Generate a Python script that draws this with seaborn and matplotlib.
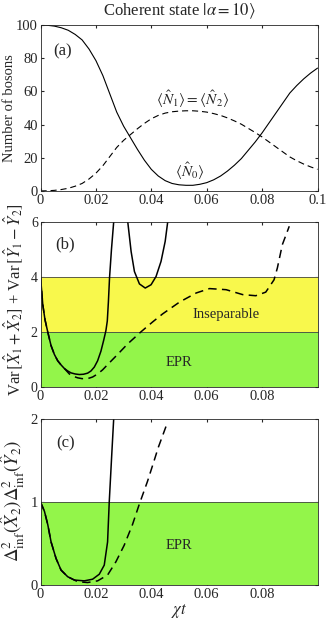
import numpy as np
import pandas as pd
import seaborn as sns
import matplotlib.pyplot as plt

# panel (a): number of bosons vs chi*t
t_a = [0, 0.0025, 0.005, 0.0075, 0.01, 0.0125, 0.015, 0.0175, 0.02, 0.0225,
       0.025, 0.0275, 0.03, 0.0325, 0.035, 0.0375, 0.04, 0.0425, 0.045, 0.0475,
       0.05, 0.0525, 0.055, 0.0575, 0.06, 0.0625, 0.065, 0.0675, 0.07, 0.0725,
       0.075, 0.0775, 0.08, 0.0825, 0.085, 0.0875, 0.09, 0.0925, 0.095, 0.0975, 0.1]
n0 = [100, 99.8, 99.3, 98.3, 96.8, 94.3, 91, 85.5, 78.5, 69.5,
      58.5, 47.5, 39, 32, 25, 18.5, 13, 9, 6.2, 4.5,
      3.7, 3.4, 3.4, 4, 5, 6.7, 9, 12, 15.5, 19.5,
      24.5, 29.5, 35, 41, 47, 53, 59, 63.5, 67.5, 71, 74]
n1 = [0, 0.1, 0.35, 0.85, 1.6, 2.85, 4.5, 7.2, 10.7, 15.2,
      20.7, 26.2, 30.5, 34, 37.5, 40.7, 43.5, 45.5, 46.9, 47.7,
      48.1, 48.3, 48.3, 48, 47.5, 46.6, 45.5, 44, 42.2, 40.2,
      37.7, 35.2, 32.5, 29.5, 26.5, 23.5, 20.5, 18.2, 16.2, 14.5, 13]

# panel (b): Var[X1+X2] + Var[Y1-Y2]
t_b1 = [0, 0.0004, 0.0008, 0.0016, 0.0026, 0.0038, 0.005, 0.0062, 0.0074, 0.0086,
        0.0098, 0.011, 0.0125, 0.014, 0.0155, 0.017, 0.0182, 0.0194, 0.0206, 0.0218,
        0.0228, 0.0236, 0.0241, 0.0245, 0.0249, 0.0256, 0.0264, 0.027]
v_b1 = [4.0, 3.5, 3.0, 2.45, 2.0, 1.5, 1.18, 0.95, 0.8, 0.67,
        0.58, 0.51, 0.47, 0.45, 0.46, 0.5, 0.58, 0.72, 0.95, 1.3,
        1.7, 2.05, 2.4, 3.1, 3.96, 5.0, 6.0, 7.0]
t_b2 = [0.031, 0.0315, 0.0327, 0.0339, 0.0357, 0.0378, 0.0399, 0.0417, 0.0435, 0.045, 0.0459, 0.0465]
v_b2 = [6.6, 6.0, 4.93, 4.2, 3.75, 3.6, 3.72, 4.02, 4.57, 5.3, 6.0, 6.5]
t_b3 = [0, 0.0004, 0.0008, 0.0016, 0.0026, 0.0038, 0.005, 0.0062, 0.0074, 0.0086,
        0.0104, 0.012, 0.0134, 0.015, 0.017, 0.0188, 0.0206, 0.0224, 0.0242, 0.0278,
        0.0314, 0.0362, 0.0404, 0.0441, 0.0502, 0.0562, 0.061, 0.067, 0.073, 0.0777,
        0.0813, 0.0843, 0.0855, 0.0873, 0.0898]
v_b3 = [4.0, 3.5, 3.0, 2.45, 2.0, 1.5, 1.18, 0.95, 0.8, 0.67,
        0.47, 0.38, 0.33, 0.30, 0.30, 0.36, 0.47, 0.62, 0.81, 1.18,
        1.56, 2.0, 2.36, 2.66, 3.09, 3.42, 3.58, 3.54, 3.36, 3.32,
        3.45, 3.9, 4.33, 5.18, 5.85]

# panel (c): inferred variance product
t_c1 = [0, 0.0014, 0.0026, 0.0038, 0.0056, 0.0074, 0.0098, 0.0122, 0.0158,
        0.0188, 0.0212, 0.023, 0.0242, 0.0248, 0.0257, 0.0264, 0.027]
v_c1 = [1.0, 0.89, 0.73, 0.52, 0.32, 0.18, 0.10, 0.06, 0.05,
        0.07, 0.13, 0.24, 0.52, 1.0, 1.57, 2.0, 2.4]
t_c2 = [0, 0.0014, 0.0026, 0.0038, 0.0056, 0.0074, 0.0098, 0.0134, 0.017,
        0.0206, 0.0242, 0.0272, 0.0302, 0.0332, 0.0356, 0.0386, 0.041, 0.0425, 0.0458]
v_c2 = [1.0, 0.89, 0.73, 0.52, 0.32, 0.18, 0.10, 0.04, 0.03,
        0.05, 0.12, 0.28, 0.48, 0.73, 0.97, 1.25, 1.5, 1.66, 1.96]

sns.set_style("ticks")
plt.rcParams['font.family'] = ['Liberation Serif', 'DejaVu Serif']
plt.rcParams['mathtext.fontset'] = 'stix'
plt.rcParams['xtick.direction'] = 'in'
plt.rcParams['ytick.direction'] = 'in'
plt.rcParams['xtick.top'] = True
plt.rcParams['ytick.right'] = True
plt.rcParams['xtick.major.size'] = 2.5
plt.rcParams['ytick.major.size'] = 2.5
plt.rcParams['axes.linewidth'] = 0.6

fig = plt.figure(figsize=(3.27, 6.24), dpi=100)
ax1 = fig.add_axes([0.124, 0.694, 0.847, 0.266])
ax2 = fig.add_axes([0.124, 0.380, 0.847, 0.264])
ax3 = fig.add_axes([0.124, 0.0625, 0.847, 0.2655])

dash = (0, (5.5, 3.5))
yellow = '#f8f84c'
green = '#93f54a'

# (a)
sns.lineplot(x=t_a, y=n0, ax=ax1, color='k', lw=0.8)
sns.lineplot(x=t_a, y=n1, ax=ax1, color='k', lw=0.8, ls=dash)
ax1.set_xlim(0, 0.1)
ax1.set_ylim(0, 100)
ax1.set_xticks([0, 0.02, 0.04, 0.06, 0.08, 0.1])
ax1.set_xticklabels(['0', '0.02', '0.04', '0.06', '0.08', '0.1'])
ax1.set_yticks([0, 20, 40, 60, 80, 100])
ax1.tick_params(axis='y', labelsize=10.5, pad=2)
ax1.tick_params(axis='x', labelsize=10.5, pad=2)
ax1.set_ylabel('Number of bosons', fontsize=10.5, va='center')
ax1.yaxis.set_label_coords(-0.112, 0.5)
ax1.set_title(r'Coherent state $|\alpha = 10\rangle$', fontsize=12, pad=7)
ax1.text(0.008, 84, '(a)', fontsize=12, ha='center', va='center')
ax1.text(0.0537, 12, r'$\langle\hat{N}_0\rangle$', fontsize=11, ha='center', va='center')
ax1.text(0.055, 55, r'$\langle\hat{N}_1\rangle = \langle\hat{N}_2\rangle$',
         fontsize=11, ha='center', va='center')

# (b)
ax2.axhspan(0, 2, color=green, lw=0)
ax2.axhspan(2, 4, color=yellow, lw=0)
ax2.axhline(2, color='#444444', lw=0.6)
ax2.axhline(4, color='#444444', lw=0.6)
sns.lineplot(x=t_b1, y=v_b1, ax=ax2, color='k', lw=1.1)
sns.lineplot(x=t_b2, y=v_b2, ax=ax2, color='k', lw=1.1)
sns.lineplot(x=t_b3, y=v_b3, ax=ax2, color='k', lw=1.1, ls=dash)
ax2.set_xlim(0, 0.1)
ax2.set_ylim(0, 6)
ax2.set_xticks([0, 0.02, 0.04, 0.06, 0.08])
ax2.set_xticklabels(['0', '0.02', '0.04', '0.06', '0.08'])
ax2.set_yticks([0, 2, 4, 6])
ax2.tick_params(axis='y', labelsize=10, pad=2)
ax2.tick_params(axis='x', labelsize=10.5, pad=2)
ax2.set_ylabel(r'Var$\,[\hat{X}_1+\hat{X}_2]$ + Var$\,[\hat{Y}_1-\hat{Y}_2]$',
               fontsize=12, va='center')
ax2.yaxis.set_label_coords(-0.097, 0.53)
ax2.text(0.009, 5.2, '(b)', fontsize=12, ha='center', va='center')
ax2.text(0.067, 2.65, 'Inseparable', fontsize=10.5, ha='center', va='center')
ax2.text(0.050, 0.9, 'EPR', fontsize=10.5, ha='center', va='center')

# (c)
ax3.axhspan(0, 1, color=green, lw=0)
ax3.axhline(1, color='#444444', lw=0.6)
sns.lineplot(x=t_c1, y=v_c1, ax=ax3, color='k', lw=1.1)
sns.lineplot(x=t_c2, y=v_c2, ax=ax3, color='k', lw=1.1, ls=dash)
ax3.set_xlim(0, 0.1)
ax3.set_ylim(0, 2)
ax3.set_xticks([0, 0.02, 0.04, 0.06, 0.08])
ax3.set_xticklabels(['0', '0.02', '0.04', '0.06', '0.08'])
ax3.set_yticks([0, 1, 2])
ax3.tick_params(axis='y', labelsize=10.5, pad=2)
ax3.tick_params(axis='x', labelsize=10.5, pad=2)
ax3.set_ylabel(r'$\Delta^2_{\rm inf}(\hat{X}_2)\Delta^2_{\rm inf}(\hat{Y}_2)$',
               fontsize=13.5, va='center')
ax3.yaxis.set_label_coords(-0.1, 0.51)
ax3.set_xlabel(r'$\chi t$', fontsize=12, labelpad=1)
ax3.text(0.009, 1.71, '(c)', fontsize=12, ha='center', va='center')
ax3.text(0.050, 0.48, 'EPR', fontsize=10.5, ha='center', va='center')

fig.savefig('out.png', dpi=100)
